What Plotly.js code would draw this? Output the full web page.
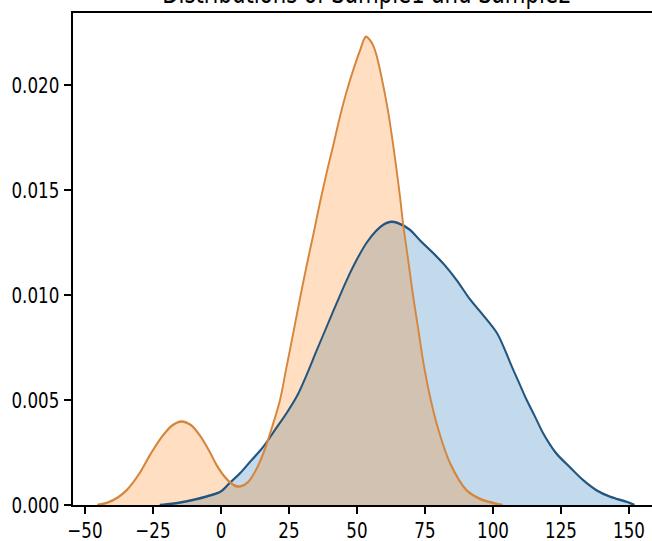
<!DOCTYPE html>
<html>
<head>
<meta charset="utf-8">
<script src="https://cdn.plot.ly/plotly-3.0.1.min.js"></script>
<style>
html, body { margin: 0; padding: 0; overflow: hidden; background: #fff; width: 652px; height: 541px; }
#chart { width: 872px; height: 541px; transform: scaleX(0.76); transform-origin: 0 0; }
</style>
</head>
<body>
<div id="chart"></div>
<script>
// Sample1 (blue) KDE curve
const sample1X = [-22.5, -18, -14, -10, -5, 0, 3, 7, 11, 15.6, 20, 24.1, 28, 31.5, 35, 38.9, 42.5, 46.2, 50, 53.6, 57, 60, 62.1, 65, 69.5, 73.2, 78, 82.4, 86.7, 91.5, 96, 101.4, 104, 106.9, 110, 112.4, 115.5, 118.5, 123, 128.3, 133, 138.1, 143, 149.2, 152];
const sample1Y = [0, 0.00006, 0.00014, 0.00025, 0.00042, 0.00065, 0.00102, 0.00151, 0.0021, 0.00278, 0.0036, 0.00437, 0.0052, 0.0062, 0.0073, 0.0085, 0.0096, 0.0107, 0.0117, 0.0125, 0.01305, 0.01338, 0.01348, 0.01343, 0.0131, 0.0126, 0.0120, 0.0114, 0.0107, 0.0098, 0.0091, 0.0082, 0.0075, 0.0066, 0.0057, 0.0050, 0.0042, 0.0034, 0.0025, 0.0018, 0.0012, 0.0007, 0.0004, 0.00015, 0];

// Sample2 (orange) KDE curve
const sample2X = [-45.5, -42, -38, -34.7, -30, -26, -22, -18, -14.5, -11, -7.7, -4, -1.6, 2, 5, 7, 10, 13, 16, 19, 21.7, 24, 26.6, 29, 31.5, 34, 36.4, 39, 41.5, 43.75, 46, 48.6, 51, 53.3, 55.5, 57, 59, 61.5, 64, 65.8, 67, 68.9, 70.7, 72.5, 74.4, 76.8, 79.9, 84.2, 90.3, 96, 100, 103.5];
const sample2Y = [0, 0.0001, 0.00035, 0.0007, 0.0015, 0.0024, 0.0032, 0.00378, 0.00398, 0.0038, 0.0033, 0.0025, 0.0019, 0.00125, 0.00093, 0.00088, 0.0011, 0.0017, 0.0026, 0.0038, 0.0050, 0.0065, 0.0082, 0.0098, 0.0114, 0.0129, 0.0144, 0.0159, 0.01725, 0.0185, 0.0196, 0.0207, 0.0216, 0.0223, 0.0220, 0.0215, 0.0204, 0.0187, 0.0165, 0.0147, 0.01335, 0.0116, 0.0099, 0.0084, 0.0068, 0.0052, 0.0036, 0.0020, 0.0007, 0.00025, 0.0001, 0];

const xTickVals = [-50, -25, 0, 25, 50, 75, 100, 125, 150];
const xTickText = ["\u221250", "\u221225", "0", "25", "50", "75", "100", "125", "150"];
const yTickVals = [0, 0.005, 0.010, 0.015, 0.020];
const yTickText = ["0.000", "0.005", "0.010", "0.015", "0.020"];
const titleText = "Distributions of Sample1 and Sample2";

const fontFam = "DejaVu Sans, sans-serif";
const blueLine = "#23567f";
const orangeLine = "#d5863c";

function fillTrace(x, y, color) {
  return { x: x, y: y, type: "scatter", mode: "lines", fill: "tozeroy", fillcolor: color,
           line: { width: 0, shape: "spline", smoothing: 1 }, hoverinfo: "skip" };
}
function lineTrace(x, y, color) {
  return { x: x, y: y, type: "scatter", mode: "lines",
           line: { color: color, width: 2.5, shape: "spline", smoothing: 1 }, hoverinfo: "skip" };
}

const traces = [
  fillTrace(sample1X, sample1Y, "rgba(31,119,180,0.27)"),
  fillTrace(sample2X, sample2Y, "rgba(255,127,14,0.26)"),
  lineTrace(sample1X, sample1Y, blueLine),
  lineTrace(sample2X, sample2Y, orangeLine)
];

const layout = {
  width: 872, height: 541,
  margin: { l: 96, r: 0, t: 13, b: 36, pad: 0 },
  paper_bgcolor: "#fff", plot_bgcolor: "#fff",
  showlegend: false,
  title: {
    text: titleText,
    font: { family: fontFam, size: 28, color: "#000" },
    x: 367 / 663, xanchor: "center", xref: "container",
    y: 1 - 3 / 541, yanchor: "bottom", yref: "container"
  },
  xaxis: {
    range: [-54.4, 162.4], showgrid: false, zeroline: false,
    showline: true, mirror: true, linecolor: "#000", linewidth: 2,
    ticks: "outside", ticklen: 7, tickwidth: 2.2, tickcolor: "#000",
    tickvals: xTickVals, ticktext: xTickText,
    tickfont: { family: fontFam, size: 22, color: "#000" },
    ticklabelstandoff: -2
  },
  yaxis: {
    range: [0, 0.02343], showgrid: false, zeroline: false,
    showline: true, mirror: true, linecolor: "#000", linewidth: 2.6,
    ticks: "outside", ticklen: 9, tickwidth: 1.8, tickcolor: "#000",
    tickvals: yTickVals, ticktext: yTickText,
    tickfont: { family: fontFam, size: 22, color: "#000" },
    ticklabelstandoff: 2
  }
};

Plotly.newPlot("chart", traces, layout, { displayModeBar: false, staticPlot: true });
</script>
</body>
</html>
